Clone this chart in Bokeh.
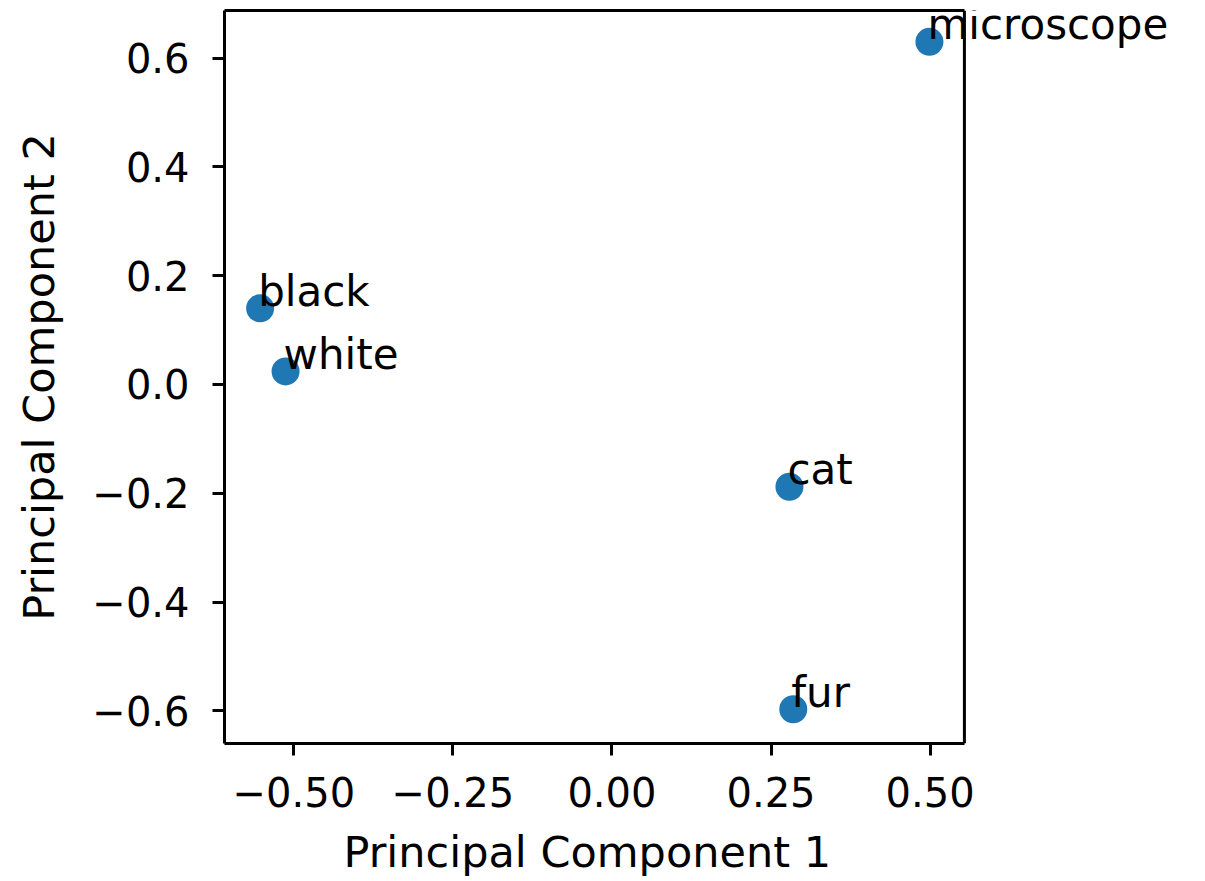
from bokeh.plotting import figure
from bokeh.models import ColumnDataSource, Label, FixedTicker, CustomJSTickFormatter, Range1d, LinearAxis, Span, Title
from bokeh.embed import file_html
from bokeh.resources import INLINE

words = ["microscope", "black", "white", "cat", "fur"]
pc1 = [0.499, -0.553, -0.513, 0.279, 0.285]
pc2 = [0.630, 0.140, 0.024, -0.188, -0.597]
x_ticks = [-0.50, -0.25, 0.00, 0.25, 0.50]
y_ticks = [-0.6, -0.4, -0.2, 0.0, 0.2, 0.4, 0.6]

# axes box limits (the frame is extended to the right so that labels are not clipped)
X_LO, X_HI = -0.609, 0.554
Y_LO, Y_HI = -0.660, 0.6875
X_FRAME_HI = 0.9015

src = ColumnDataSource(dict(x=pc1, y=pc2, w=words))

FONT = "DejaVu Sans"
FS = "40px"
AFS = "43px"

p = figure(frame_width=961, frame_height=733, output_backend="svg", toolbar_location=None,
           x_range=Range1d(X_LO, X_FRAME_HI), y_range=Range1d(Y_LO, Y_HI),
           min_border_left=224, min_border_right=10, min_border_top=10, min_border_bottom=2)
p.background_fill_color = "white"
p.border_fill_color = "white"
p.grid.visible = False
p.outline_line_color = None

bottom_axis = p.below[0]
left_axis = p.left[0]
top_axis = LinearAxis()
p.add_layout(top_axis, "above")

p.scatter("x", "y", source=src, size=28, fill_color="#1f77b4", line_color="#1f77b4", line_width=0)

p.add_layout(Span(location=X_HI, dimension="height", line_color="black", line_width=3))

for xv, yv, w in zip(pc1, pc2, words):
    p.add_layout(Label(x=xv, y=yv, text=w, x_offset=-2, y_offset=17,
                       text_align="left", text_baseline="alphabetic",
                       text_font=FONT, text_font_size="42px", text_color="black"))

for ax in (bottom_axis, left_axis, top_axis):
    ax.axis_line_color = "black"
    ax.axis_line_width = 3
    ax.major_tick_out = 12
    ax.major_tick_in = 0
    ax.major_tick_line_width = 3
    ax.major_tick_line_color = "black"
    ax.minor_tick_line_color = None
    ax.major_label_text_font = FONT
    ax.major_label_text_font_size = FS
    ax.major_label_text_color = "black"
    ax.axis_label_text_font = FONT
    ax.axis_label_text_font_size = AFS
    ax.axis_label_text_font_style = "normal"
    ax.axis_label_text_color = "black"

top_axis.major_tick_line_color = None
top_axis.major_tick_out = 0
top_axis.major_label_text_font_size = "0px"
top_axis.major_label_text_color = None
top_axis.major_label_standoff = 0
top_axis.bounds = (X_LO, X_HI)

bottom_axis.bounds = (X_LO, X_HI)
bottom_axis.ticker = FixedTicker(ticks=x_ticks)
left_axis.ticker = FixedTicker(ticks=y_ticks)
bottom_axis.formatter = CustomJSTickFormatter(code="return (tick < -1e-9 ? '\u2212' : '') + Math.abs(tick).toFixed(2);")
left_axis.formatter = CustomJSTickFormatter(code="return (tick < -1e-9 ? '\u2212' : '') + Math.abs(tick).toFixed(1);")
left_axis.axis_label = "Principal Component 2"
bottom_axis.major_label_standoff = 21
left_axis.major_label_standoff = 23
left_axis.axis_label_standoff = 25

# x-axis label, centred under the axes box rather than the wider frame
xlabel = Title(text="Principal Component 1", align="left", offset=119, standoff=31,
               text_font=FONT, text_font_size=AFS, text_font_style="normal", text_color="black")
p.add_layout(xlabel, "below")

open("out.html", "w").write(file_html(p, INLINE))
